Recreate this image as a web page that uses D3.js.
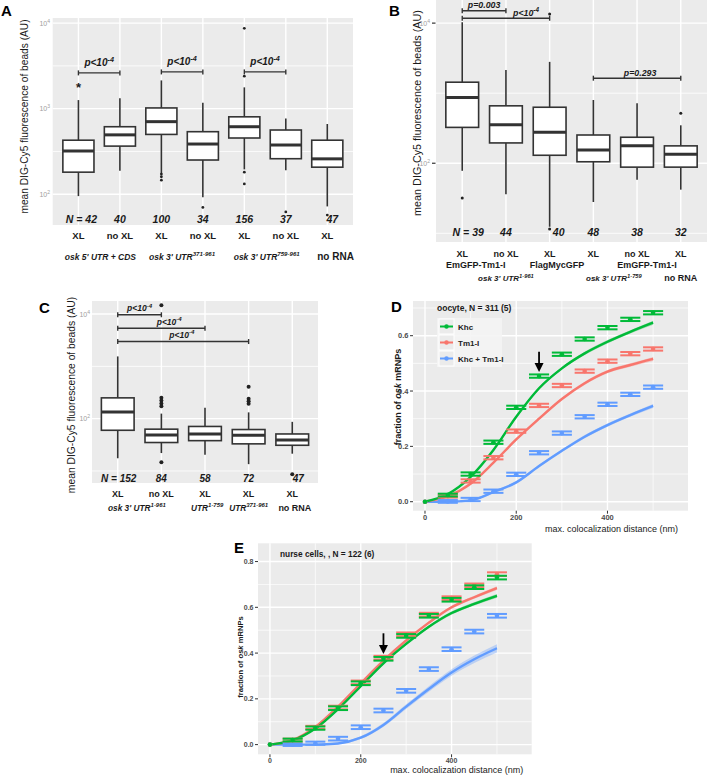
<!DOCTYPE html>
<html><head><meta charset="utf-8">
<script src="https://cdn.jsdelivr.net/npm/d3@7"></script>
<style>body{margin:0;background:#fff} svg{display:block;font-family:"Liberation Sans",Arial,sans-serif}</style>
</head><body><svg id="c" width="709" height="776"></svg>
<script>
// ---------- Panel A data ----------
const aCats = ["XL","no XL","XL","no XL","XL","no XL","XL"];
const aN = ["N = 42","40","100","34","156","37","47"];
const aLow = [95,188,176,92,195,190,72];
const aQ1 = [181,365,500,251,454,260,207];
const aMed = [320,494,705,386,615,376,259];
const aQ3 = [428,615,1020,538,803,563,428];
const aHigh = [1260,1320,2140,1170,1775,770,662];
const aOut = [[],[],[172,160,146],[70],[8700,2400,181,132],[62],[57]];
const aGroups = ["osk 5' UTR + CDS","osk 3' UTR^371-961","osk 3' UTR^759-961","no RNA"];
const aGroupPos = [0.53,2.5,4.54,6.2];
const aBrackets = [[0,1,2620,"p<10^-4"],[2,3,2690,"p<10^-4"],[4,5,2690,"p<10^-4"]];
// ---------- Panel B data ----------
const bCats = ["XL","no XL","XL","XL","no XL","XL"];
const bN = ["N = 39","44","40","48","38","32"];
const bLow = [78,36,12.4,28,58,42];
const bQ1 = [325,195,130,105,88,88];
const bMed = [865,355,277,155,177,134];
const bQ3 = [1435,660,630,253,235,177];
const bHigh = [10300,2140,2800,800,720,348];
const bOut = [[32],[],[13500,11.5],[],[],[518]];
const bSub = ["EmGFP-Tm1-I","FlagMycGFP","EmGFP-Tm1-I"];
const bSubPos = [0.31,2.17,4.23];
const bGroups = ["osk 3' UTR^1-961","osk 3' UTR^1-759","no RNA"];
const bGroupPos = [1.0,3.47,5.0];
const bBrackets = [[0,1,15000,"p=0.003",0.5],[0,2,11750,"p<10^-4",1.46],[3,5,1637,"p=0.293",4.07]];
// ---------- Panel C data ----------
const cCats = ["XL","no XL","XL","XL","XL"];
const cN = ["N = 152","84","58","72","47"];
const cLow = [17.5,22,20.4,13.5,21.4];
const cQ1 = [60,35,38,33,31];
const cMed = [134,48.5,51,48,39];
const cQ3 = [250,63,71,62,51];
const cHigh = [1550,125,161,132,87];
const cOut = [[],[14800,250,222,195,172,14.7],[],[406,240,215,192],[8.7]];
const cGroups = ["osk 3' UTR^1-961","UTR^1-759","UTR^371-961","no RNA"];
const cGroupPos = [0.44,2.05,3.0,4.06];
const cBrackets = [[0,1,9700,"p<10^-4",0.5],[0,2,5370,"p<10^-4",1.18],[0,3,2985,"p<10^-4",1.47]];
// ---------- Panels D / E data ----------
const dist = [0,50,100,150,200,250,300,350,400,450,500];
const seriesNames = ["Khc","Tm1-I","Khc + Tm1-I"];
const dKhc  = [0,0.024,0.100,0.215,0.341,0.454,0.533,0.588,0.629,0.659,0.683];
const dTm1  = [0,0.020,0.075,0.159,0.255,0.348,0.420,0.472,0.508,0.535,0.552];
const dBoth = [0,0.001,0.008,0.038,0.099,0.177,0.248,0.307,0.352,0.388,0.414];
const dKhcFit  = [0,0.028,0.090,0.187,0.307,0.410,0.482,0.536,0.578,0.614,0.647];
const dTm1Fit  = [0,0.020,0.065,0.141,0.225,0.300,0.371,0.428,0.470,0.494,0.516];
const dBothFit = [0,0.000,0.005,0.035,0.070,0.129,0.184,0.235,0.277,0.313,0.346];
const dSE   = [0,0.005,0.006,0.006,0.006,0.006,0.006,0.006,0.006,0.006,0.006];
const dBand = [0,0.002,0.003,0.004,0.005,0.005,0.005,0.006,0.006,0.006,0.007];
const eKhc  = [0,0.020,0.072,0.159,0.268,0.375,0.475,0.563,0.633,0.688,0.730];
const eTm1  = [0,0.020,0.075,0.162,0.272,0.380,0.482,0.568,0.640,0.696,0.745];
const eBoth = [0,0.000,0.006,0.026,0.076,0.149,0.235,0.330,0.417,0.494,0.563];
const eKhcFit  = [0,0.018,0.070,0.155,0.255,0.355,0.440,0.515,0.575,0.615,0.650];
const eTm1Fit  = [0,0.020,0.077,0.166,0.268,0.367,0.455,0.533,0.600,0.644,0.684];
const eBothFit = [0,0.000,0.000,0.005,0.030,0.086,0.166,0.243,0.315,0.373,0.421];
const eSE   = [0,0.006,0.007,0.008,0.008,0.008,0.008,0.008,0.008,0.008,0.008];
const eBand = [0,0.002,0.003,0.004,0.005,0.005,0.006,0.006,0.007,0.007,0.008];
const eBandBoth = [0,0.002,0.003,0.004,0.006,0.008,0.010,0.012,0.014,0.016,0.018];
const colors = {"Khc":"#00BA38","Tm1-I":"#F8766D","Khc + Tm1-I":"#619CFF"};

const svg = d3.select("#c");
const INK = "#1a1a1a";

function addLabel(g, x, y, str, o) {
  const size = o.size || 9;
  const t = g.append("text").attr("x", x).attr("y", y)
    .attr("font-size", size).attr("font-weight", o.weight || "bold")
    .attr("font-style", o.style || "normal").attr("text-anchor", o.anchor || "middle")
    .attr("fill", o.fill || INK);
  if (o.rotate) t.attr("transform", `rotate(-90,${x},${y})`);
  const parts = str.split("^");
  t.append("tspan").text(parts[0]);
  if (parts[1]) t.append("tspan").attr("dy", -size * 0.42).attr("font-size", size * 0.72).text(parts[1]);
  return t;
}

function boxPanel(c) {
  const g = svg.append("g");
  const n = c.low.length;
  const x = d3.scalePoint().domain(d3.range(n)).range([c.x0, c.x1]).padding(c.pad);
  const y = d3.scaleLog().domain(c.domain).range([c.y1, c.y0]);
  const step = x.step(), bw = step * 0.75;
  const xi = i => x(0) + i * step;
  g.append("rect").attr("x", c.x0).attr("y", c.y0).attr("width", c.x1 - c.x0).attr("height", c.y1 - c.y0).attr("fill", "#ebebeb");
  c.minor.forEach(v => g.append("line").attr("x1", c.x0).attr("x2", c.x1).attr("y1", y(v)).attr("y2", y(v)).attr("stroke", "#fff").attr("stroke-width", 0.8));
  c.major.forEach(v => g.append("line").attr("x1", c.x0).attr("x2", c.x1).attr("y1", y(v)).attr("y2", y(v)).attr("stroke", "#fff").attr("stroke-width", 1.4));
  d3.range(n).forEach(i => g.append("line").attr("x1", x(i)).attr("x2", x(i)).attr("y1", c.y0).attr("y2", c.y1).attr("stroke", "#fff").attr("stroke-width", 1.4));
  c.major.forEach(v => {
    addLabel(g, c.tickX, y(v) + 2.5, "10^" + Math.round(Math.log10(v)), {size: 7, weight: "normal", anchor: "end", fill: "#a0a0a0"});
    if (c.tickMarks) g.append("line").attr("x1", c.tickX + 2).attr("x2", c.x0 - 0.5).attr("y1", y(v)).attr("y2", y(v)).attr("stroke", "#333").attr("stroke-width", 1.2);
  });
  const st = "#333";
  d3.range(n).forEach(i => {
    const cx = x(i);
    g.append("line").attr("x1", cx).attr("x2", cx).attr("y1", y(c.high[i])).attr("y2", y(c.q3[i])).attr("stroke", st).attr("stroke-width", 1.6);
    g.append("line").attr("x1", cx).attr("x2", cx).attr("y1", y(c.q1[i])).attr("y2", y(c.low[i])).attr("stroke", st).attr("stroke-width", 1.6);
    g.append("rect").attr("x", cx - bw / 2).attr("y", y(c.q3[i])).attr("width", bw).attr("height", y(c.q1[i]) - y(c.q3[i]))
      .attr("fill", "#fff").attr("stroke", st).attr("stroke-width", 1.6);
    g.append("line").attr("x1", cx - bw / 2).attr("x2", cx + bw / 2).attr("y1", y(c.med[i])).attr("y2", y(c.med[i])).attr("stroke", st).attr("stroke-width", 3);
    c.out[i].forEach(v => g.append("circle").attr("cx", cx).attr("cy", y(v)).attr("r", c.outR).attr("fill", "#222"));
  });
  c.brackets.forEach(b => {
    const by = y(b[2]), xa = x(b[0]), xb = x(b[1]);
    g.append("line").attr("x1", xa).attr("x2", xb).attr("y1", by).attr("y2", by).attr("stroke", st).attr("stroke-width", 1.4);
    [xa, xb].forEach(xx => g.append("line").attr("x1", xx).attr("x2", xx).attr("y1", by - 2.5).attr("y2", by + 2.5).attr("stroke", st).attr("stroke-width", 1.4));
    const tp = b[4] !== undefined ? xi(b[4]) : (xa + xb) / 2;
    addLabel(g, tp, by - c.pOff, b[3], {size: c.pSize, style: "italic"});
  });
  c.N.forEach((s, i) => addLabel(g, x(i) + (c.nShift[i] || 0), c.nY, s, {size: c.nSize, style: "italic"}));
  c.cats.forEach((s, i) => addLabel(g, x(i), c.catY, s, {size: c.catSize}));
  if (c.sub) c.sub.forEach((s, i) => addLabel(g, xi(c.subPos[i]), c.subY, s, {size: c.catSize}));
  c.groups.forEach((s, i) => {
    const isNo = s === "no RNA";
    addLabel(g, xi(c.groupPos[i]), c.groupY, s, {size: isNo ? c.noSize : c.groupSize, style: isNo ? "normal" : "italic"});
  });
  addLabel(g, c.titleX, c.titleY, "mean DIG-Cy5 fluorescence of beads (AU)", {size: c.titleSize, weight: "normal", rotate: true});
  addLabel(g, c.letterX, c.letterY, c.letter, {size: 15, anchor: "start", fill: "#000"});
  return {g, x, y};
}

// Panel A
const A = boxPanel({x0: 52.7, x1: 353, y0: 18, y1: 225, pad: 0.62, domain: [Math.pow(10, 1.64), Math.pow(10, 4.06)],
  low: aLow, q1: aQ1, med: aMed, q3: aQ3, high: aHigh, out: aOut, outR: 1.4,
  minor: [Math.pow(10, 2.5), Math.pow(10, 3.5)], major: [100, 1000, 10000], tickX: 50, tickMarks: false,
  brackets: aBrackets, pOff: 7, pSize: 10, N: aN, nShift: {0: 3, 6: 5}, nY: 223, nSize: 10.5, cats: aCats, catY: 238.5, catSize: 9.5,
  groups: aGroups, groupPos: aGroupPos, groupY: 260, groupSize: 8.5, noSize: 10,
  titleX: 28, titleY: 116.5, titleSize: 10.2, letter: "A", letterX: 1, letterY: 16});
addLabel(A.g, A.x(0), A.y(1820) + 6, "*", {size: 13});

// Panel B
boxPanel({x0: 436, x1: 707, y0: 0, y1: 242, pad: 0.6, domain: [Math.pow(10, 0.876), Math.pow(10, 4.33)],
  low: bLow, q1: bQ1, med: bMed, q3: bQ3, high: bHigh, out: bOut, outR: 1.5,
  minor: [10, 1000], major: [100, 10000], tickX: 430, tickMarks: true,
  brackets: bBrackets, pOff: 2.5, pSize: 8.8, N: bN, nShift: {0: 6, 2: 9}, nY: 235.5, nSize: 10.5, cats: bCats, catY: 256.5, catSize: 9,
  sub: bSub, subPos: bSubPos, subY: 267.5,
  groups: bGroups, groupPos: bGroupPos, groupY: 281, groupSize: 8, noSize: 9,
  titleX: 421, titleY: 113, titleSize: 10.8, letter: "B", letterX: 389, letterY: 16});

// Panel C
boxPanel({x0: 92, x1: 318, y0: 301, y1: 483, pad: 0.59, domain: [Math.pow(10, 0.77), Math.pow(10, 4.25)],
  low: cLow, q1: cQ1, med: cMed, q3: cQ3, high: cHigh, out: cOut, outR: 2,
  minor: [10, 1000], major: [100, 10000], tickX: 90, tickMarks: false,
  brackets: cBrackets, pOff: 3.5, pSize: 8.5, N: cN, nShift: {0: 1, 4: 6}, nY: 482, nSize: 10, cats: cCats, catY: 496.5, catSize: 9,
  groups: cGroups, groupPos: cGroupPos, groupY: 510.5, groupSize: 8.3, noSize: 9,
  titleX: 75, titleY: 395, titleSize: 10.3, letter: "C", letterX: 39, letterY: 313});

// ---------- Line panels ----------
function linePanel(c) {
  const g = svg.append("g");
  const x = d3.scaleLinear().domain([-26.3, 576.5]).range([c.x0, c.x1]);
  const y = d3.scaleLinear().domain(c.ydomain).range([c.y1, c.y0]);
  g.append("rect").attr("x", c.x0).attr("y", c.y0).attr("width", c.x1 - c.x0).attr("height", c.y1 - c.y0).attr("fill", "#ebebeb");
  c.yMinor.forEach(v => g.append("line").attr("x1", c.x0).attr("x2", c.x1).attr("y1", y(v)).attr("y2", y(v)).attr("stroke", "#fff").attr("stroke-width", 0.7));
  [100, 300, 500].forEach(v => g.append("line").attr("x1", x(v)).attr("x2", x(v)).attr("y1", c.y0).attr("y2", c.y1).attr("stroke", "#fff").attr("stroke-width", 0.7));
  c.yMajor.forEach(v => g.append("line").attr("x1", c.x0).attr("x2", c.x1).attr("y1", y(v)).attr("y2", y(v)).attr("stroke", "#fff").attr("stroke-width", 1.4));
  [0, 200, 400].forEach(v => g.append("line").attr("x1", x(v)).attr("x2", x(v)).attr("y1", c.y0).attr("y2", c.y1).attr("stroke", "#fff").attr("stroke-width", 1.4));
  c.yMajor.forEach(v => {
    g.append("text").attr("x", c.x0 - 4.5).attr("y", y(v) + 2.6).attr("text-anchor", "end").attr("font-size", c.tickSize)
      .attr("font-weight", "bold").attr("fill", "#4d4d4d").text(d3.format(".1f")(v));
    g.append("line").attr("x1", c.x0 - 3).attr("x2", c.x0).attr("y1", y(v)).attr("y2", y(v)).attr("stroke", "#333").attr("stroke-width", 1);
  });
  [0, 200, 400].forEach(v => {
    g.append("text").attr("x", x(v)).attr("y", c.y1 + c.xTickDy).attr("text-anchor", "middle").attr("font-size", c.tickSize)
      .attr("font-weight", "bold").attr("fill", "#4d4d4d").text(v);
    g.append("line").attr("x1", x(v)).attr("x2", x(v)).attr("y1", c.y1).attr("y2", c.y1 + 3).attr("stroke", "#333").attr("stroke-width", 1);
  });
  const half = 22;
  c.series.forEach(s => {
    const col = colors[s.name];
    const area = d3.area().x((d, i) => x(dist[i])).y0((d, i) => y(d - s.band[i])).y1((d, i) => y(d + s.band[i])).curve(d3.curveMonotoneX);
    g.append("path").attr("d", area(s.fit)).attr("fill", col).attr("opacity", 0.35);
    const line = d3.line().x((d, i) => x(dist[i])).y(d => y(d)).curve(d3.curveMonotoneX);
    g.append("path").attr("d", line(s.fit)).attr("fill", "none").attr("stroke", col).attr("stroke-width", 2.4);
  });
  c.series.forEach(s => {
    const col = colors[s.name];
    s.pts.forEach((v, i) => {
      const d = dist[i], se = s.se[i];
      if (se > 0) {
        [v - se, v + se].forEach(vv => g.append("line").attr("x1", x(d - half)).attr("x2", x(d + half)).attr("y1", y(vv)).attr("y2", y(vv)).attr("stroke", col).attr("stroke-width", 2));
        g.append("line").attr("x1", x(d)).attr("x2", x(d)).attr("y1", y(v - se)).attr("y2", y(v + se)).attr("stroke", col).attr("stroke-width", 2);
      }
      g.append("circle").attr("cx", x(d)).attr("cy", y(v)).attr("r", 2.3).attr("fill", col);
    });
  });
  const ax = x(250);
  g.append("line").attr("x1", ax).attr("x2", ax).attr("y1", c.arrow[0]).attr("y2", c.arrow[1] - 6).attr("stroke", "#000").attr("stroke-width", 1.8);
  g.append("path").attr("d", `M${ax - 4.5},${c.arrow[1] - 9} L${ax + 4.5},${c.arrow[1] - 9} L${ax},${c.arrow[1]} Z`).attr("fill", "#000");
  g.append("text").attr("x", c.x1 - c.xTitleInset).attr("y", c.xTitleY).attr("text-anchor", "end").attr("font-size", 9).attr("fill", INK)
    .text("max. colocalization distance (nm)");
  const yt = g.append("text").attr("x", c.yTitleX).attr("y", c.yTitleY).attr("text-anchor", "middle").attr("font-size", c.yTitleSize)
    .attr("font-weight", "bold").attr("fill", INK).attr("transform", `rotate(-90,${c.yTitleX},${c.yTitleY})`);
  yt.append("tspan").text("fraction of  ");
  yt.append("tspan").attr("font-style", "italic").text("osk");
  yt.append("tspan").text(" mRNPs");
  g.append("text").attr("x", c.x0 + c.noteDx).attr("y", c.noteY).attr("font-size", c.noteSize).attr("font-weight", "bold").attr("fill", INK).text(c.note);
  addLabel(g, c.letterX, c.letterY, c.letter, {size: 15, anchor: "start", fill: "#000"});
  return {g, x, y};
}

const D = linePanel({x0: 413, x1: 688, y0: 301, y1: 510.7, ydomain: [-0.0325, 0.7254],
  yMinor: [0.1, 0.3, 0.5, 0.7], yMajor: [0, 0.2, 0.4, 0.6], tickSize: 7.5, xTickDy: 9.5,
  series: [
    {name: "Khc + Tm1-I", pts: dBoth, fit: dBothFit, se: dSE, band: dBand},
    {name: "Tm1-I", pts: dTm1, fit: dTm1Fit, se: dSE, band: dBand},
    {name: "Khc", pts: dKhc, fit: dKhcFit, se: dSE, band: dBand}],
  arrow: [351.7, 372], xTitleInset: 10, xTitleY: 531.5, yTitleX: 401, yTitleY: 397, yTitleSize: 9,
  note: "oocyte, N = 311 (5)", noteDx: 24, noteY: 311, noteSize: 8.5, letter: "D", letterX: 391, letterY: 312});

(function () {
  const g = D.g.append("g");
  g.append("rect").attr("x", 437).attr("y", 318).attr("width", 65).attr("height", 49).attr("fill", "#f4f4f4").attr("opacity", 0.9);
  seriesNames.forEach((s, i) => {
    const cy = 326.5 + i * 16;
    g.append("rect").attr("x", 439).attr("y", cy - 7.5).attr("width", 15).attr("height", 15).attr("fill", "#ebebeb").attr("stroke", "#fff").attr("stroke-width", 1);
    g.append("line").attr("x1", 440).attr("x2", 453).attr("y1", cy).attr("y2", cy).attr("stroke", colors[s]).attr("stroke-width", 2);
    g.append("circle").attr("cx", 446.5).attr("cy", cy).attr("r", 2.2).attr("fill", colors[s]);
    g.append("text").attr("x", 458).attr("y", cy + 3).attr("font-size", 8).attr("font-weight", "bold").attr("fill", "#222").text(s);
  });
})();

linePanel({x0: 258, x1: 531.7, y0: 543.3, y1: 754.3, ydomain: [-0.0424, 0.8798],
  yMinor: [0.1, 0.3, 0.5, 0.7], yMajor: [0, 0.2, 0.4, 0.6, 0.8], tickSize: 7, xTickDy: 8.5,
  series: [
    {name: "Khc + Tm1-I", pts: eBoth, fit: eBothFit, se: eSE, band: eBandBoth},
    {name: "Tm1-I", pts: eTm1, fit: eTm1Fit, se: eSE, band: eBand},
    {name: "Khc", pts: eKhc, fit: eKhcFit, se: eSE, band: eBand}],
  arrow: [633.3, 654], xTitleInset: 8.5, xTitleY: 772.5, yTitleX: 243, yTitleY: 657, yTitleSize: 7.6,
  note: "nurse cells, , N = 122 (6)", noteDx: 22, noteY: 557, noteSize: 8.3, letter: "E", letterX: 234, letterY: 553});
</script></body></html>
